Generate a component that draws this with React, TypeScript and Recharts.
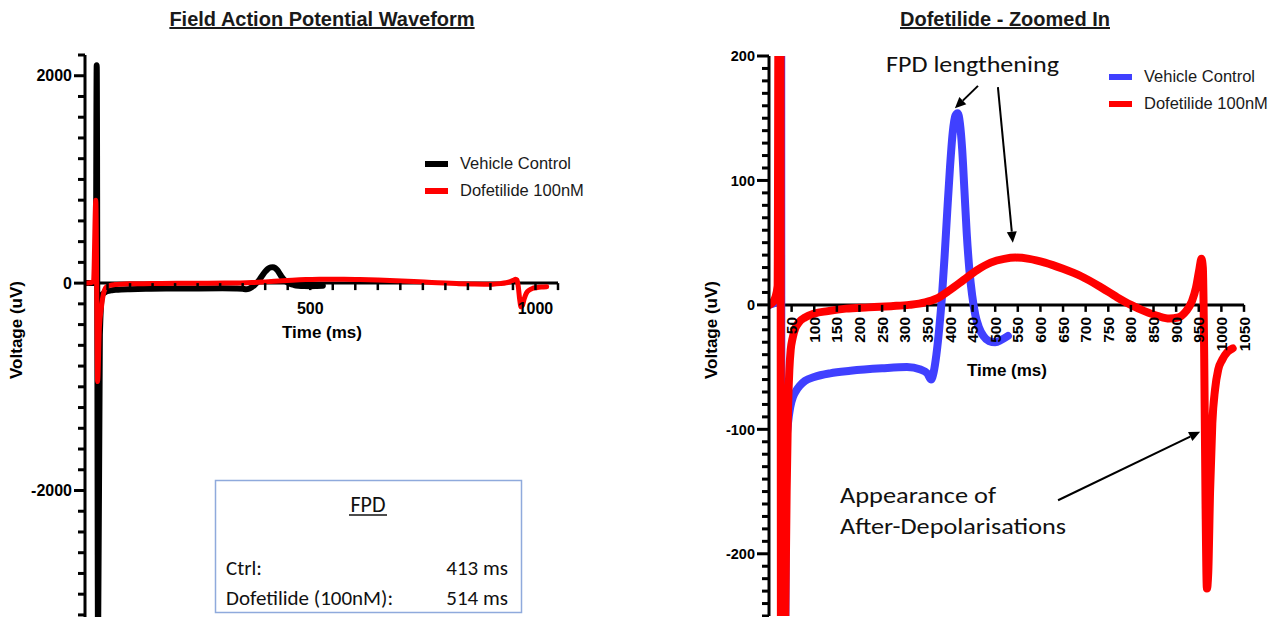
import React from 'react';
import { LineChart, Line, XAxis, YAxis, ReferenceLine, ReferenceDot, Legend } from 'recharts';

const seriesNames = ['Vehicle Control', 'Dofetilide 100nM'];
const overviewColors = ['#000000', '#FF0000'];
const zoomColors = ['#4040FF', '#FF0000'];

const vehicleTime = [0, 8, 15, 20, 24, 26, 29, 33, 38, 42, 47, 53, 60, 68, 80, 100, 135, 180, 250, 305, 335, 350, 358, 364, 370, 376, 382, 388, 394, 400, 406, 412, 417, 422, 427, 432, 437, 443, 449, 456, 464, 474, 486, 500, 514, 528];
const vehicleVoltage = [0, 1, 2, 4, 8, 2100, -3500, -500, -115, -95, -82, -74, -69, -65, -61, -58, -55, -53, -51, -50, -52, -55, -60, -54, -40, -20, 5, 38, 75, 110, 138, 152, 154, 146, 125, 92, 58, 28, 8, -8, -18, -25, -29, -30, -28, -25];

const dofetilideTime = [0, 8, 14, 19, 24, 28, 32, 36, 39, 42, 45, 48, 52, 58, 66, 80, 100, 130, 170, 220, 270, 310, 345, 370, 400, 430, 460, 490, 520, 545, 575, 610, 650, 690, 730, 770, 800, 830, 860, 885, 905, 922, 935, 944, 951, 956, 959, 962, 965, 968, 971, 975, 980, 986, 993, 1002, 1013, 1025];
const dofetilideVoltage = [0, 2, 6, 15, 800, -950, -420, -250, -150, -85, -52, -36, -27, -19, -14, -10, -7, -5, -3, -2, -1, 0, 2, 5, 12, 20, 28, 34, 37, 38, 37, 34, 29, 23, 15, 6, 0, -5, -9, -11, -10, -5, 3, 14, 28, 37, 30, -40, -160, -228, -215, -150, -95, -68, -52, -44, -38, -35];

const overviewXTicks = [50, 100, 150, 200, 250, 300, 350, 400, 450, 500, 550, 600, 650, 700, 750, 800, 850, 900, 950, 1000, 1050];
const overviewXLabels = [500, 1000];
const overviewYMajor = [-2000, 0, 2000];
const zoomXTicks = [50, 100, 150, 200, 250, 300, 350, 400, 450, 500, 550, 600, 650, 700, 750, 800, 850, 900, 950, 1000, 1050];
const zoomYMajor = [-200, -100, 0, 100, 200];

const fpdTitle = 'FPD';
const fpdLabels = ['Ctrl:', 'Dofetilide (100nM):'];
const fpdValues = ['413 ms', '514 ms'];

const zoomArrows = [
  { from: { x: 462, y: 176 }, to: { x: 411, y: 158 } },
  { from: { x: 506, y: 175 }, to: { x: 539, y: 50 } },
  { from: { x: 639, y: -157 }, to: { x: 953, y: -102 } },
];

const ARIAL = '"Liberation Sans", Arial, Helvetica, sans-serif';
const CALIBRI = 'Carlito, Lato, "Open Sans", sans-serif';

const range = (a: number, b: number, step: number) => {
  const out: number[] = [];
  for (let v = a; v <= b + 1e-9; v += step) out.push(Math.round(v));
  return out;
};

const vehicleData = vehicleTime.map((t, i) => ({ t, v: vehicleVoltage[i] }));
const dofetilideData = dofetilideTime.map((t, i) => ({ t, v: dofetilideVoltage[i] }));

const makeYTick = (label: string | null, fontSize: number, len: number) => (p: any) => {
  const cx = Number(p.cx);
  const cy = Number(p.cy);
  return (
    <g>
      <rect x={cx - len} y={cy - 1.5} width={len} height={3} fill="#000" />
      {label !== null && (
        <text x={cx - len - 2} y={cy} dy="0.36em" textAnchor="end" fontSize={fontSize} fontWeight="bold" fontFamily={ARIAL} fill="#000">
          {label}
        </text>
      )}
    </g>
  );
};

const makeXTick = (label: string | null, fontSize: number, rotate: boolean, len: number) => (p: any) => {
  const { cx, cy } = p;
  return (
    <g>
      <line x1={cx} x2={cx} y1={cy} y2={cy + len} stroke="#000" strokeWidth={2.5} />
      {label !== null && (rotate ? (
        <text transform={`translate(${cx},${cy + 12}) rotate(-90)`} textAnchor="end" dy="0.36em" fontSize={fontSize} fontWeight="bold" fontFamily={ARIAL} fill="#000">
          {label}
        </text>
      ) : (
        <text x={cx} y={cy + 25} dy="0.36em" textAnchor="middle" fontSize={fontSize} fontWeight="bold" fontFamily={ARIAL} fill="#000">
          {label}
        </text>
      ))}
    </g>
  );
};

const arrowShape = (p: any) => {
  const { x1, y1, x2, y2 } = p;
  const ang = Math.atan2(y2 - y1, x2 - x1);
  const L = 11;
  const W = 5;
  const bx = x2 - L * Math.cos(ang);
  const by = y2 - L * Math.sin(ang);
  const px = -Math.sin(ang) * W;
  const py = Math.cos(ang) * W;
  return (
    <g>
      <line x1={x1} y1={y1} x2={bx} y2={by} stroke="#000" strokeWidth={2} />
      <polygon points={`${x2},${y2} ${bx + px},${by + py} ${bx - px},${by - py}`} fill="#000" />
    </g>
  );
};

const renderLegend = (props: any) => {
  const items = [...(props.payload || [])].sort(
    (a: any, b: any) => seriesNames.indexOf(a.value) - seriesNames.indexOf(b.value)
  );
  return (
    <div>
      {items.map((it: any, i: number) => (
        <div key={i} style={{ display: 'flex', alignItems: 'center', height: 27 }}>
          <div style={{ width: 23, height: 6, background: it.color, marginRight: 12 }} />
          <span style={{ font: `16.5px ${ARIAL}`, color: '#1a1a1a', whiteSpace: 'nowrap' }}>{it.value}</span>
        </div>
      ))}
    </div>
  );
};

function OverviewChart() {
  const yTicks = range(-3200, 2200, 200);
  return (
    <LineChart width={600} height={617} margin={{ top: 55, right: 42, bottom: 0, left: 25 }}>
      <XAxis type="number" dataKey="t" domain={[0, 1050]} hide allowDataOverflow />
      <YAxis type="number" domain={[-3220, 2200]} width={60} tick={false} tickLine={false} axisLine={{ stroke: '#000', strokeWidth: 3 }} allowDataOverflow />
      <ReferenceLine y={0} stroke="#000" strokeWidth={3} />
      {yTicks.map((v) => {
        const major = overviewYMajor.includes(v);
        return (
          <ReferenceDot key={`y${v}`} x={0} y={v} r={1} ifOverflow="visible" shape={makeYTick(major ? String(v) : null, 16, major ? 11 : 7)} />
        );
      })}
      {overviewXTicks.map((t) => (
        <ReferenceDot key={t} x={t} y={0} r={1} ifOverflow="visible" shape={makeXTick(overviewXLabels.includes(t) ? String(t) : null, 16, false, 7)} />
      ))}
      <Line data={vehicleData} dataKey="v" name={seriesNames[0]} type="monotone" stroke={overviewColors[0]} strokeWidth={6} dot={false} strokeLinecap="round" strokeLinejoin="round" isAnimationActive={false} />
      <Line data={dofetilideData} dataKey="v" name={seriesNames[1]} type="monotone" stroke={overviewColors[1]} strokeWidth={5} dot={false} strokeLinecap="round" strokeLinejoin="round" isAnimationActive={false} />
      <Legend layout="horizontal" verticalAlign="middle" align="center" wrapperStyle={{ left: 425, top: 150, width: 'auto', height: 'auto' }} content={renderLegend} />
    </LineChart>
  );
}

function ZoomChart() {
  const yTicks = range(-250, 200, 10);
  return (
    <LineChart width={642} height={617} margin={{ top: 56, right: 38, bottom: 1, left: 69 }}>
      <XAxis type="number" dataKey="t" domain={[0, 1050]} hide allowDataOverflow />
      <YAxis type="number" domain={[-250, 200]} width={60} tick={false} tickLine={false} axisLine={{ stroke: '#000', strokeWidth: 3 }} allowDataOverflow />
      <ReferenceLine y={0} stroke="#000" strokeWidth={3} />
      {yTicks.map((v) => {
        const major = zoomYMajor.includes(v);
        return (
          <ReferenceDot key={`y${v}`} x={0} y={v} r={1} ifOverflow="visible" shape={makeYTick(major ? String(v) : null, 14.5, major ? 12 : 7)} />
        );
      })}
      {zoomXTicks.map((t) => (
        <ReferenceDot key={t} x={t} y={0} r={1} ifOverflow="visible" shape={makeXTick(String(t), 15.5, true, 7)} />
      ))}
      <Line data={vehicleData} dataKey="v" name={seriesNames[0]} type="monotone" stroke={zoomColors[0]} strokeWidth={8} dot={false} strokeLinecap="round" strokeLinejoin="round" isAnimationActive={false} />
      <Line data={dofetilideData} dataKey="v" name={seriesNames[1]} type="monotone" stroke={zoomColors[1]} strokeWidth={8} dot={false} strokeLinecap="round" strokeLinejoin="round" isAnimationActive={false} />
      {zoomArrows.map((a, i) => (
        <ReferenceLine key={i} segment={[a.from, a.to]} ifOverflow="visible" shape={arrowShape} />
      ))}
      <Legend layout="horizontal" verticalAlign="middle" align="center" wrapperStyle={{ left: 469, top: 63, width: 'auto', height: 'auto' }} content={renderLegend} />
    </LineChart>
  );
}

export default function App() {
  const titleStyle: React.CSSProperties = {
    position: 'absolute', top: 8, textAlign: 'center', font: `bold 20px ${ARIAL}`,
    textDecoration: 'underline', color: '#1a1a1a', whiteSpace: 'nowrap',
  };
  return (
    <div style={{ position: 'absolute', left: 0, top: 0, width: 1282, height: 617, overflow: 'hidden', background: '#fff' }}>
      <div style={{ ...titleStyle, left: 0, width: 644 }}>Field Action Potential Waveform</div>
      <div style={{ ...titleStyle, left: 800, width: 410 }}>Dofetilide - Zoomed In</div>
      <div style={{ position: 'absolute', left: 0, top: 0 }}>
        <OverviewChart />
      </div>
      <div style={{ position: 'absolute', left: 640, top: 0 }}>
        <ZoomChart />
      </div>
      <svg width={1282} height={617} style={{ position: 'absolute', left: 0, top: 0, pointerEvents: 'none' }}>
        <g fontFamily={ARIAL} fontWeight="bold" fontSize={17} fill="#000">
          <text x={322} y={332} dy="0.36em" textAnchor="middle">Time (ms)</text>
          <text x={1007} y={370} dy="0.36em" textAnchor="middle">Time (ms)</text>
          <text transform="translate(16,330) rotate(-90)" dy="0.36em" textAnchor="middle">Voltage (uV)</text>
          <text transform="translate(711,330) rotate(-90)" dy="0.36em" textAnchor="middle">Voltage (uV)</text>
        </g>
        <g fontFamily={CALIBRI} fill="#111">
          <text x={886} y={64} dy="0.36em" fontSize={23} textLength={173} lengthAdjust="spacingAndGlyphs">FPD lengthening</text>
          <text x={840} y={495} dy="0.36em" fontSize={22} textLength={156} lengthAdjust="spacingAndGlyphs">Appearance of</text>
          <text x={840} y={526} dy="0.36em" fontSize={22} textLength={226} lengthAdjust="spacingAndGlyphs">After-Depolarisations</text>
        </g>
        <rect x={215.5} y={480.5} width={306} height={132} fill="#fff" stroke="#8FAADC" strokeWidth={1.5} />
        <g fontFamily={CALIBRI} fill="#111" fontSize={21}>
          <text x={368} y={504} dy="0.36em" textAnchor="middle" fontSize={22}>{fpdTitle}</text>
          <line x1={349} x2={387} y1={515} y2={515} stroke="#111" strokeWidth={1.3} />
          {fpdLabels.map((l, i) => (
            <text key={l} x={226} y={567 + i * 30} dy="0.36em">{l}</text>
          ))}
          {fpdValues.map((v, i) => (
            <text key={v} x={508} y={567 + i * 30} dy="0.36em" textAnchor="end">{v}</text>
          ))}
        </g>
      </svg>
    </div>
  );
}
